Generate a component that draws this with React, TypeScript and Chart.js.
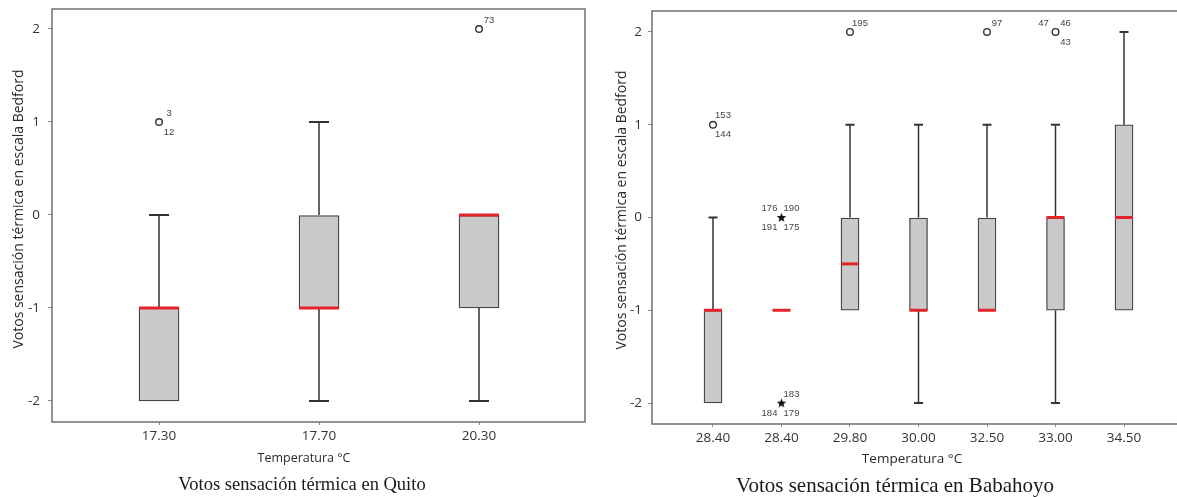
import React, { useEffect, useRef } from "react";
import { Chart, registerables } from "chart.js";
Chart.register(...registerables);

// ---------- Quito ----------
const quitoCategories = ["17.30", "17.70", "20.30"];
const quitoQ1 = [-2, -1, -1];
const quitoQ3 = [-1, 0, 0];
const quitoMedian = [-1, -1, 0];
const quitoWhiskerLow = [-2, -2, -2];
const quitoWhiskerHigh = [0, 1, 0];
const quitoOutlierCat = [0, 2];
const quitoOutlierValue = [1, 2];
const quitoOutlierLabels = [
  [["3", "ur"], ["12", "lr"]],
  [["73", "ur"]],
];
const quitoExtremeCat: number[] = [];
const quitoExtremeValue: number[] = [];
const quitoExtremeLabels: string[][][] = [];

// ---------- Babahoyo ----------
const babaCategories = ["28.40", "28.40", "29.80", "30.00", "32.50", "33.00", "34.50"];
const babaQ1 = [-2, -1, -1, -1, -1, -1, -1];
const babaQ3 = [-1, -1, 0, 0, 0, 0, 1];
const babaMedian = [-1, -1, -0.5, -1, -1, 0, 0];
const babaWhiskerLow = [-2, -1, -1, -2, -1, -2, -1];
const babaWhiskerHigh = [0, -1, 1, 1, 1, 1, 2];
const babaOutlierCat = [0, 2, 4, 5];
const babaOutlierValue = [1, 2, 2, 2];
const babaOutlierLabels = [
  [["153", "ur"], ["144", "lr"]],
  [["195", "ur"]],
  [["97", "ur"]],
  [["47", "ul"], ["46", "ur"], ["43", "lr"]],
];
const babaExtremeCat = [1, 1];
const babaExtremeValue = [0, -2];
const babaExtremeLabels = [
  [["176", "ul"], ["190", "ur"], ["191", "ll"], ["175", "lr"]],
  [["183", "ur"], ["184", "ll"], ["179", "lr"]],
];

const yTickValues = [-2, -1, 0, 1, 2];

const SANS = "'Open Sans', 'DejaVu Sans', sans-serif";
const SERIF = "'Liberation Serif', 'DejaVu Serif', serif";

type PanelCfg = {
  cats: string[];
  q1: number[];
  q3: number[];
  med: number[];
  lo: number[];
  hi: number[];
  oCat: number[];
  oVal: number[];
  oLab: string[][][];
  eCat: number[];
  eVal: number[];
  eLab: string[][][];
  xMin: number;
  xMax: number;
  yMin: number;
  yMax: number;
  top: number;
  xHeight: number;
  boxWidth: number;
  capWidth: number;
  tickFont: number;
  yPad: number;
  yTitle: [number, number];
  yTitleFont: number;
  xTitle: [number, number];
  xTitleFont: number;
  title: string;
  titlePos: [number, number];
  titleFont: number;
};

const labelOffsets: Record<string, [number, number]> = {
  ur: [10, -9],
  lr: [10, 10],
  ul: [-12, -9],
  ll: [-12, 10],
};

function makeStar(): HTMLCanvasElement {
  const c = document.createElement("canvas");
  c.width = 11;
  c.height = 11;
  const g = c.getContext("2d")!;
  g.fillStyle = "#111";
  g.beginPath();
  const cx = 5.5, cy = 5.8, R = 5, r = 2.1;
  for (let i = 0; i < 10; i++) {
    const a = -Math.PI / 2 + (i * Math.PI) / 5;
    const rad = i % 2 === 0 ? R : r;
    const px = cx + rad * Math.cos(a);
    const py = cy + rad * Math.sin(a);
    if (i === 0) g.moveTo(px, py);
    else g.lineTo(px, py);
  }
  g.closePath();
  g.fill();
  return c;
}

function buildChart(canvas: HTMLCanvasElement, p: PanelCfg) {
  const extras = {
    id: "boxExtras",
    afterDatasetsDraw(chart: any) {
      const { ctx, chartArea } = chart;
      const x = chart.scales.x;
      const y = chart.scales.y;
      ctx.save();
      ctx.strokeStyle = "#333333";
      p.cats.forEach((_, i) => {
        const px = x.getPixelForValue(i);
        const yq1 = y.getPixelForValue(p.q1[i]);
        const yq3 = y.getPixelForValue(p.q3[i]);
        const ylo = y.getPixelForValue(p.lo[i]);
        const yhi = y.getPixelForValue(p.hi[i]);
        ctx.lineWidth = 1.5;
        if (p.hi[i] > p.q3[i]) {
          ctx.beginPath();
          ctx.moveTo(px, yq3);
          ctx.lineTo(px, yhi);
          ctx.stroke();
          ctx.lineWidth = 2;
          ctx.beginPath();
          ctx.moveTo(px - p.capWidth / 2, yhi);
          ctx.lineTo(px + p.capWidth / 2, yhi);
          ctx.stroke();
        }
        ctx.lineWidth = 1.5;
        if (p.lo[i] < p.q1[i]) {
          ctx.beginPath();
          ctx.moveTo(px, yq1);
          ctx.lineTo(px, ylo);
          ctx.stroke();
          ctx.lineWidth = 2;
          ctx.beginPath();
          ctx.moveTo(px - p.capWidth / 2, ylo);
          ctx.lineTo(px + p.capWidth / 2, ylo);
          ctx.stroke();
        }
      });
      ctx.strokeStyle = "#e3242b";
      ctx.lineWidth = 3;
      p.cats.forEach((_, i) => {
        const px = x.getPixelForValue(i);
        const ym = y.getPixelForValue(p.med[i]);
        ctx.beginPath();
        ctx.moveTo(px - p.boxWidth / 2, ym);
        ctx.lineTo(px + p.boxWidth / 2, ym);
        ctx.stroke();
      });
      ctx.strokeStyle = "#707070";
      ctx.lineWidth = 1.5;
      ctx.strokeRect(
        chartArea.left,
        chartArea.top,
        chartArea.right - chartArea.left,
        chartArea.bottom - chartArea.top
      );
      ctx.fillStyle = "#444";
      ctx.font = "9.5px 'Liberation Sans', Arial, sans-serif";
      ctx.textAlign = "center";
      ctx.textBaseline = "middle";
      const drawLabels = (cats: number[], vals: number[], labs: string[][][]) => {
        cats.forEach((c, k) => {
          const px = x.getPixelForValue(c);
          const py = y.getPixelForValue(vals[k]);
          (labs[k] || []).forEach(([t, pos]) => {
            const [dx, dy] = labelOffsets[pos];
            ctx.fillText(t, px + dx, py + dy);
          });
        });
      };
      drawLabels(p.oCat, p.oVal, p.oLab);
      drawLabels(p.eCat, p.eVal, p.eLab);
      ctx.restore();
    },
    afterDraw(chart: any) {
      const { ctx } = chart;
      ctx.save();
      ctx.fillStyle = "#2a2a2a";
      ctx.textAlign = "center";
      ctx.textBaseline = "middle";
      ctx.save();
      ctx.translate(p.yTitle[0], p.yTitle[1]);
      ctx.rotate(-Math.PI / 2);
      ctx.font = `${p.yTitleFont}px ${SANS}`;
      ctx.fillText("Votos sensación térmica en escala Bedford", 0, 0);
      ctx.restore();
      ctx.font = `${p.xTitleFont}px ${SANS}`;
      ctx.fillText("Temperatura °C", p.xTitle[0], p.xTitle[1]);
      ctx.fillStyle = "#1a1a1a";
      ctx.font = `${p.titleFont}px ${SERIF}`;
      ctx.fillText(p.title, p.titlePos[0], p.titlePos[1]);
      ctx.restore();
    },
  };

  const star = makeStar();

  return new Chart(canvas, {
    type: "bar",
    data: {
      datasets: [
        {
          type: "bar",
          data: p.cats.map((_, i) => ({ x: i, y: [p.q1[i], p.q3[i]] })) as any,
          backgroundColor: "#c9c9c9",
          borderColor: "#444444",
          borderWidth: 1.3,
          borderSkipped: false,
          barThickness: p.boxWidth,
        } as any,
        {
          type: "scatter",
          data: p.oCat.map((c, k) => ({ x: c, y: p.oVal[k] })),
          pointStyle: "circle",
          pointRadius: 3.3,
          pointBorderWidth: 1.4,
          pointBorderColor: "#333",
          pointBackgroundColor: "rgba(255,255,255,0)",
        } as any,
        {
          type: "scatter",
          data: p.eCat.map((c, k) => ({ x: c, y: p.eVal[k] })),
          pointStyle: star,
          pointRadius: 5,
        } as any,
      ],
    },
    options: {
      responsive: false,
      maintainAspectRatio: false,
      animation: false,
      events: [],
      layout: { padding: { top: p.top, right: 15, left: 0, bottom: 0 } },
      plugins: {
        legend: { display: false },
        tooltip: { enabled: false },
        title: { display: false },
      },
      scales: {
        x: {
          type: "linear",
          min: p.xMin,
          max: p.xMax,
          offset: false,
          afterBuildTicks: (scale: any) => {
            scale.ticks = p.cats.map((_, i) => ({ value: i }));
          },
          afterFit: (scale: any) => {
            scale.height = p.xHeight;
            scale.paddingLeft = 0;
            scale.paddingRight = 0;
            scale.paddingTop = 0;
            scale.paddingBottom = 0;
          },
          ticks: {
            autoSkip: false,
            maxRotation: 0,
            padding: 3,
            color: "#333",
            font: { family: SANS, size: p.tickFont },
            callback: (_v: any, idx: number) => p.cats[idx] ?? "",
          },
          grid: {
            display: true,
            offset: false,
            drawOnChartArea: false,
            drawTicks: true,
            tickLength: 3,
            color: "#888",
          },
          border: { display: false },
        },
        y: {
          type: "linear",
          min: p.yMin,
          max: p.yMax,
          afterBuildTicks: (scale: any) => {
            scale.ticks = yTickValues.map((v) => ({ value: v }));
          },
          afterFit: (scale: any) => {
            scale.width = 52;
            scale.paddingTop = 0;
            scale.paddingBottom = 0;
            scale.paddingLeft = 0;
            scale.paddingRight = 0;
          },
          ticks: {
            padding: p.yPad,
            color: "#333",
            font: { family: SANS, size: p.tickFont },
            callback: (v: any) => String(v),
          },
          grid: {
            display: true,
            offset: false,
            drawOnChartArea: false,
            drawTicks: true,
            tickLength: 4,
            color: "#888",
          },
          border: { display: false },
        },
      },
    } as any,
    plugins: [extras as any],
  });
}

const quitoCfg: PanelCfg = {
  cats: quitoCategories,
  q1: quitoQ1,
  q3: quitoQ3,
  med: quitoMedian,
  lo: quitoWhiskerLow,
  hi: quitoWhiskerHigh,
  oCat: quitoOutlierCat,
  oVal: quitoOutlierValue,
  oLab: quitoOutlierLabels,
  eCat: quitoExtremeCat,
  eVal: quitoExtremeValue,
  eLab: quitoExtremeLabels,
  xMin: -0.669,
  xMax: 2.6625,
  yMin: -2.226,
  yMax: 2.215,
  top: 9,
  xHeight: 75,
  boxWidth: 40,
  capWidth: 20,
  tickFont: 13.5,
  yPad: 8,
  yTitle: [19, 209],
  yTitleFont: 14,
  xTitle: [304, 458],
  xTitleFont: 12.5,
  title: "Votos sensación térmica en Quito",
  titlePos: [302, 485],
  titleFont: 18.5,
};

const babaCfg: PanelCfg = {
  cats: babaCategories,
  q1: babaQ1,
  q3: babaQ3,
  med: babaMedian,
  lo: babaWhiskerLow,
  hi: babaWhiskerHigh,
  oCat: babaOutlierCat,
  oVal: babaOutlierValue,
  oLab: babaOutlierLabels,
  eCat: babaExtremeCat,
  eVal: babaExtremeValue,
  eLab: babaExtremeLabels,
  xMin: -0.8905,
  xMax: 6.8905,
  yMin: -2.226,
  yMax: 2.226,
  top: 11,
  xHeight: 73,
  boxWidth: 18,
  capWidth: 9,
  tickFont: 13.5,
  yPad: 6,
  yTitle: [22, 210],
  yTitleFont: 14,
  xTitle: [312, 459],
  xTitleFont: 13.5,
  title: "Votos sensación térmica en Babahoyo",
  titlePos: [295, 486],
  titleFont: 21,
};

export default function App() {
  const leftRef = useRef<HTMLCanvasElement | null>(null);
  const rightRef = useRef<HTMLCanvasElement | null>(null);

  useEffect(() => {
    const charts: Chart[] = [];
    if (leftRef.current) charts.push(buildChart(leftRef.current, quitoCfg));
    if (rightRef.current) charts.push(buildChart(rightRef.current, babaCfg));
    return () => charts.forEach((c) => c.destroy());
  }, []);

  return (
    <div
      style={{
        position: "fixed",
        left: 0,
        top: 0,
        width: 1177,
        height: 497,
        overflow: "hidden",
        background: "#ffffff",
      }}
    >
      <canvas
        ref={leftRef}
        width={600}
        height={497}
        style={{ position: "absolute", left: 0, top: 0, width: 600, height: 497 }}
      />
      <canvas
        ref={rightRef}
        width={600}
        height={497}
        style={{ position: "absolute", left: 600, top: 0, width: 600, height: 497 }}
      />
    </div>
  );
}
